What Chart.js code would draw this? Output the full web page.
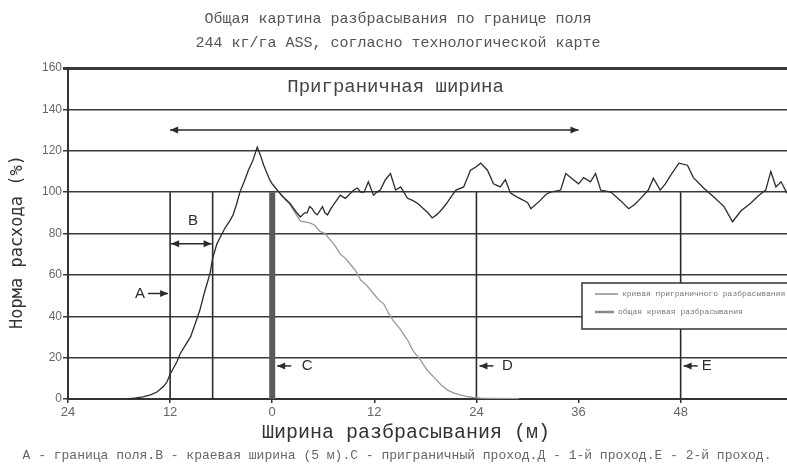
<!DOCTYPE html>
<html>
<head>
<meta charset="utf-8">
<script src="https://cdn.jsdelivr.net/npm/chart.js@4.4.1/dist/chart.umd.min.js"></script>
<style>html,body{margin:0;padding:0;background:#fff}</style>
</head>
<body>
<canvas id="grafico" width="787" height="466"></canvas>
<script>
// общая кривая (тёмная) - пары [ширина м, норма %]
var totalCurve = [[-17,0],[-16,0.5],[-15.2,1],[-14.3,2],[-13.5,3.5],[-12.8,6],[-12.4,8],[-12,12],[-11.6,15],[-11.2,18],[-10.8,22],[-10.2,26],[-9.6,30],[-9,37],[-8.5,43],[-8,51],[-7.5,58],[-7.3,61],[-7,68],[-6.5,75],[-6,79],[-5.5,83],[-5,86],[-4.6,89],[-4.2,94],[-3.8,100],[-3.3,105],[-2.8,110.6],[-2.3,115],[-1.76,121.7],[-1.4,118],[-1,113],[-0.6,109],[-0.3,106],[0,104],[0.6,101],[1.2,98],[2.1,94.5],[2.7,91],[3.3,88],[3.8,90],[4.1,90],[4.4,93],[4.7,92],[5.0,90],[5.3,89],[5.6,91],[5.9,93],[6.2,90],[6.5,89],[6.9,92],[7.3,94.5],[8,98.5],[8.6,97],[9.2,99.5],[9.6,101],[10,102],[10.4,100],[10.8,100],[11.3,105],[11.9,98.5],[12.3,100],[12.7,101],[13.3,106],[13.9,109],[14.5,101],[15.1,102.5],[15.9,97],[16.5,96],[17.1,94.5],[18.3,90],[18.8,87.5],[19.3,89],[19.8,91],[20.4,94],[21,97.6],[21.6,101],[22.5,102.5],[23.3,110.6],[23.9,112],[24.5,114],[25.3,110.6],[26,104],[26.8,102.5],[27.4,106],[28,99.5],[28.8,97.6],[30,95],[30.4,92],[31.5,96],[32.2,99],[32.7,100],[33.9,101],[34.5,109],[35.4,106],[36,104],[36.6,107],[37.4,105],[38,109],[38.6,101],[39.8,100],[40.9,96],[41.9,92],[42.6,94],[43.3,97],[44.2,101],[44.8,106.7],[45.6,101],[46.2,104],[46.8,108],[47.8,114],[48.8,113],[49.5,107],[50.7,102],[51.9,97.6],[53.1,93],[54.1,85.7],[55.1,91],[56.2,94.5],[57.2,98.5],[58,101],[58.6,110],[59.2,102.5],[59.8,105],[60.5,99.5]]

// кривая приграничного прохода (серая)
var borderCurve = [[0,104],[0.6,101],[1.2,98],[2.1,94],[2.7,90],[3.3,86],[4,85.5],[4.5,85],[5,84],[5.6,81],[6.2,80],[6.8,77],[7.4,74],[8,70],[8.6,68],[9.2,65],[9.8,62],[10.4,57.5],[11.1,55],[11.9,51],[12.5,48],[13.1,46],[13.6,42],[14.2,38],[15,34],[15.9,28.5],[16.6,23],[17.4,19],[18.2,14],[19,10.6],[19.8,7],[20.6,4.3],[21.3,3],[22.1,2],[22.9,1.2],[23.6,0.8],[24.5,0.4],[26,0.3],[29,0.2]]

// вертикальные отметки A..E
var markerX = [-12, -7, 0, 24, 48]
var markerLabels = ['A', 'B', 'C', 'D', 'E']
var markerTop = 100

var xTicks = [-24, -12, 0, 12, 24, 36, 48]
var yTicks = [0, 20, 40, 60, 80, 100, 120, 140, 160]

var titulo = ['Общая картина разбрасывания по границе поля', '244 кг/га ASS, согласно технологической карте']
var leyenda = ['кривая приграничного разбрасывания', 'общая кривая разбрасывания']
var pie = 'А - граница поля.В - краевая ширина (5 м).С - приграничный проход.Д - 1-й проход.Е - 2-й проход.'

var oscuro = '#2b2b2b'
var gris = '#9a9a9a'

function aPuntos(arr){
    return arr.map(function(p){ return {x: p[0], y: p[1]} })
}

var datasets = [
    {label: leyenda[0], data: aPuntos(totalCurve), borderColor: oscuro, borderWidth: 1.3, pointRadius: 0, tension: 0},
    {label: leyenda[1], data: aPuntos(borderCurve), borderColor: gris, borderWidth: 1.3, pointRadius: 0, tension: 0}
]
markerX.forEach(function(mx, i){
    datasets.push({
        label: markerLabels[i],
        data: [{x: mx, y: 0}, {x: mx, y: markerTop}],
        borderColor: i == 2 ? '#5a5a5a' : oscuro,
        borderWidth: i == 2 ? 6 : 1.6,
        pointRadius: 0
    })
})

function punta(ctx, px, py, dir){
    ctx.beginPath()
    ctx.moveTo(px, py)
    ctx.lineTo(px - dir * 8, py - 3.5)
    ctx.lineTo(px - dir * 8, py + 3.5)
    ctx.closePath()
    ctx.fill()
}
function flecha(ctx, x1, x2, py, doble){
    ctx.beginPath()
    ctx.moveTo(x1, py)
    ctx.lineTo(x2, py)
    ctx.stroke()
    punta(ctx, x2, py, x2 > x1 ? 1 : -1)
    if (doble) punta(ctx, x1, py, x2 > x1 ? -1 : 1)
}

var anotaciones = {
    id: 'anotaciones',
    afterDatasetsDraw: function(chart){
        var ctx = chart.ctx, sx = chart.scales.x, sy = chart.scales.y, a = chart.chartArea
        ctx.save()
        ctx.strokeStyle = oscuro
        ctx.fillStyle = oscuro
        ctx.lineWidth = 1.5

        // приграничная ширина
        flecha(ctx, sx.getPixelForValue(-12), sx.getPixelForValue(36), sy.getPixelForValue(130), true)
        ctx.font = '19px "Liberation Mono"'
        ctx.textAlign = 'center'
        ctx.textBaseline = 'middle'
        ctx.fillStyle = '#444'
        ctx.fillText('Приграничная ширина', sx.getPixelForValue(14.5), sy.getPixelForValue(151))
        ctx.fillStyle = oscuro

        // B
        flecha(ctx, sx.getPixelForValue(-12) + 1, sx.getPixelForValue(-7) - 1, sy.getPixelForValue(75), true)
        ctx.font = '15px "Liberation Sans"'
        ctx.fillText(markerLabels[1], sx.getPixelForValue(-9.3), sy.getPixelForValue(86))

        // A
        var pa = sx.getPixelForValue(markerX[0])
        flecha(ctx, pa - 22, pa - 2, sy.getPixelForValue(51), false)
        ctx.fillText(markerLabels[0], pa - 30, sy.getPixelForValue(51))

        // C, D, E
        var off = [0, 0, 32, 30, 25]
        for (var i = 2; i < 5; i++){
            var p = sx.getPixelForValue(markerX[i]) + (i == 2 ? 3 : 1)
            flecha(ctx, p + 16, p + 2, sy.getPixelForValue(16), false)
            ctx.fillText(markerLabels[i], p + off[i], sy.getPixelForValue(16))
        }

        // легенда
        var lx = a.right - 205, ly = a.top + 215
        ctx.fillStyle = '#fff'
        ctx.fillRect(lx, ly, 215, 46)
        ctx.lineWidth = 1.5
        ctx.strokeStyle = '#333'
        ctx.strokeRect(lx, ly, 215, 46)
        ctx.lineWidth = 1
        ctx.strokeStyle = '#555'
        ctx.beginPath(); ctx.moveTo(lx + 13, ly + 11); ctx.lineTo(lx + 36, ly + 11); ctx.stroke()
        ctx.lineWidth = 2.5
        ctx.strokeStyle = '#888'
        ctx.beginPath(); ctx.moveTo(lx + 13, ly + 29); ctx.lineTo(lx + 32, ly + 29); ctx.stroke()
        ctx.fillStyle = '#777'
        ctx.font = '8px "Liberation Mono"'
        ctx.textAlign = 'left'
        ctx.fillText(leyenda[0], lx + 40, ly + 11)
        ctx.fillText(leyenda[1], lx + 36, ly + 29)
        ctx.restore()
    },
    afterDraw: function(chart){
        var ctx = chart.ctx
        ctx.save()
        ctx.textAlign = 'center'
        ctx.textBaseline = 'middle'
        ctx.fillStyle = '#555'
        ctx.font = '15px "Liberation Mono"'
        ctx.fillText(titulo[0], 398, 19)
        ctx.fillText(titulo[1], 398, 43)

        ctx.fillStyle = '#333'
        ctx.font = '20px "Liberation Mono"'
        ctx.fillText('Ширина разбрасывания (м)', 406, 433)

        ctx.fillStyle = '#666'
        ctx.font = '13px "Liberation Mono"'
        ctx.fillText(pie, 397, 456)

        ctx.translate(18, 242)
        ctx.rotate(-Math.PI / 2)
        ctx.fillStyle = '#333'
        ctx.font = '17px "DejaVu Sans Mono"'
        ctx.fillText('Норма расхода (%)', 0, 0)
        ctx.restore()
    }
}

new Chart(document.getElementById('grafico').getContext('2d'), {
    type: 'line',
    data: {datasets: datasets},
    options: {
        responsive: false,
        animation: false,
        layout: {padding: {top: 68, left: 0, right: 0, bottom: 0}},
        plugins: {legend: {display: false}, tooltip: {enabled: false}, title: {display: false}},
        scales: {
            x: {
                type: 'linear',
                min: -24,
                max: 60.5,
                afterBuildTicks: function(s){ s.ticks = xTicks.map(function(v){ return {value: v} }) },
                afterFit: function(s){ s.height = 67 },
                grid: {drawOnChartArea: false, tickLength: 4, color: '#333', lineWidth: 1.5},
                border: {color: '#333', width: 2},
                ticks: {
                    color: '#666',
                    padding: 2,
                    font: {family: '"Liberation Sans Narrow", "Liberation Sans"', size: 13},
                    callback: function(v){ return Math.abs(v) }
                }
            },
            y: {
                min: 0,
                max: 160,
                afterBuildTicks: function(s){ s.ticks = yTicks.map(function(v){ return {value: v} }) },
                afterFit: function(s){ s.width = 68 },
                grid: {
                    color: '#3a3a3a',
                    tickLength: 5,
                    lineWidth: function(c){ return c.tick && c.tick.value == 160 ? 3 : 1.5 }
                },
                border: {color: '#333', width: 2},
                ticks: {
                    color: '#666',
                    padding: 1,
                    font: {family: '"Liberation Sans Narrow", "Liberation Sans"', size: 12}
                }
            }
        }
    },
    plugins: [anotaciones]
})
</script>
</body>
</html>
